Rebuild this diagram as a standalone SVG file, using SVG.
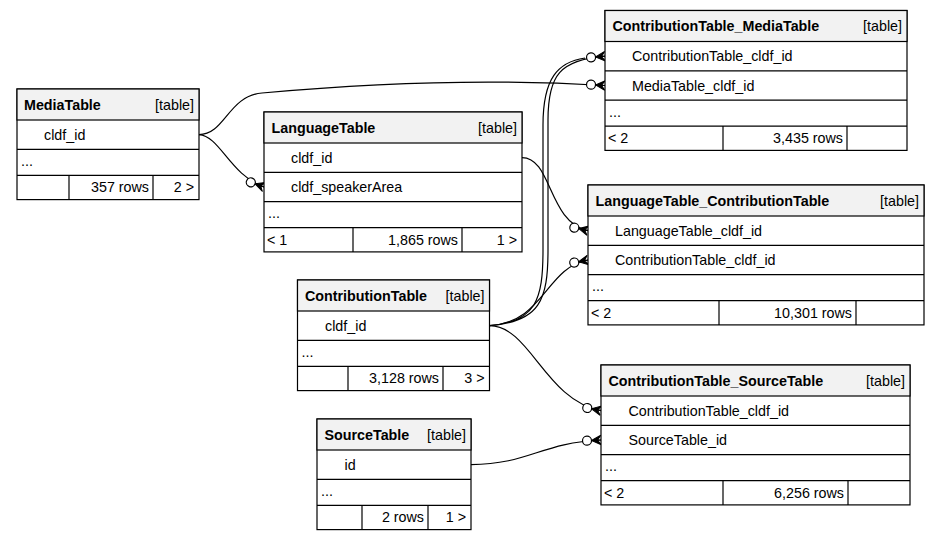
<svg xmlns="http://www.w3.org/2000/svg" width="940" height="542" viewBox="0 0 940 542">
<defs>
<style>
text{font-family:"Liberation Sans",Arial,sans-serif;font-size:14.3px;fill:#000}
.t{font-weight:bold}
.e{text-anchor:end}
.box{fill:#fff;stroke:#000;stroke-width:1.2}
.hd{fill:#f2f2f2;stroke:#000;stroke-width:1.2}
.ln{stroke:#000;stroke-width:1.2}
.edge{fill:none;stroke:#000;stroke-width:1.2;marker-end:url(#cf)}
</style>
<marker id="cf" markerUnits="userSpaceOnUse" orient="auto" refX="0" refY="0" markerWidth="24" markerHeight="12" viewBox="-22 -6 24 12" overflow="visible">
<path d="M-9.5,0 L0,-4.8 L-3.5,0 L0,0 L-3.5,0 L0,4.8 Z" fill="#000" stroke="#000" stroke-width="1"/>
<circle cx="-14" cy="0" r="4.5" fill="#fff" stroke="#000" stroke-width="1.2"/>
</marker>
</defs>
<rect width="940" height="542" fill="#fff"/>

<g id="connectors">
<path class="edge" d="M199,134.6 C225,134.6 228,96 262,93 C360,84 480,78 605,85.5"/>
<path class="edge" d="M199,134.6 C220,136 230,175 264,187"/>
<path class="edge" d="M522,157.6 C552,157.6 548,222 588,230.6"/>
<path class="edge" d="M489.5,325.7 C545,322 545,268 588,260"/>
<path class="edge" d="M489.5,325.7 C536,322 543,300 543,250 L543,125 C543,78 558,62 585,58 M489.5,325.7 C540,322 548,300 548,250 L548,120 C548,75 560,60 605,56.2"/>
<path class="edge" d="M489.5,325.7 C530,325.7 545,400 601,410.6"/>
<path class="edge" d="M471,464.6 C530,464 540,443 601,440"/>
</g>

<g id="MediaTable">
<rect class="box" x="17" y="89" width="182" height="110.6"/>
<rect class="hd" x="17" y="89" width="182" height="31"/>
<line class="ln" x1="17" y1="149.3" x2="199" y2="149.3"/>
<line class="ln" x1="17" y1="175.3" x2="199" y2="175.3"/>
<line class="ln" x1="69" y1="175.3" x2="69" y2="199.6"/>
<line class="ln" x1="153" y1="175.3" x2="153" y2="199.6"/>
<text class="t" x="24" y="109.5">MediaTable</text>
<text class="e" x="194" y="109.5">[table]</text>
<text x="44" y="139.7">cldf_id</text>
<text x="21" y="165.8">...</text>
<text class="e" x="149" y="192.3">357 rows</text>
<text class="e" x="194" y="192.3">2 &gt;</text>
</g>

<g id="LanguageTable">
<rect class="box" x="264" y="112" width="258" height="139.9"/>
<rect class="hd" x="264" y="112" width="258" height="31"/>
<line class="ln" x1="264" y1="172.3" x2="522" y2="172.3"/>
<line class="ln" x1="264" y1="201.6" x2="522" y2="201.6"/>
<line class="ln" x1="264" y1="227.6" x2="522" y2="227.6"/>
<line class="ln" x1="353" y1="227.6" x2="353" y2="251.9"/>
<line class="ln" x1="462" y1="227.6" x2="462" y2="251.9"/>
<text class="t" x="271.5" y="132.5">LanguageTable</text>
<text class="e" x="517" y="132.5">[table]</text>
<text x="291" y="162.7">cldf_id</text>
<text x="291" y="192">cldf_speakerArea</text>
<text x="268" y="218.1">...</text>
<text x="267" y="244.6">&lt; 1</text>
<text class="e" x="458" y="244.6">1,865 rows</text>
<text class="e" x="517" y="244.6">1 &gt;</text>
</g>

<g id="ContributionTable_MediaTable">
<rect class="box" x="605" y="10.5" width="302" height="139.9"/>
<rect class="hd" x="605" y="10.5" width="302" height="31"/>
<line class="ln" x1="605" y1="70.8" x2="907" y2="70.8"/>
<line class="ln" x1="605" y1="100.1" x2="907" y2="100.1"/>
<line class="ln" x1="605" y1="126.1" x2="907" y2="126.1"/>
<line class="ln" x1="723" y1="126.1" x2="723" y2="150.4"/>
<line class="ln" x1="847" y1="126.1" x2="847" y2="150.4"/>
<text class="t" x="612.5" y="31">ContributionTable_MediaTable</text>
<text class="e" x="902" y="31">[table]</text>
<text x="632" y="61.2">ContributionTable_cldf_id</text>
<text x="632" y="90.5">MediaTable_cldf_id</text>
<text x="609" y="116.6">...</text>
<text x="608" y="143.1">&lt; 2</text>
<text class="e" x="843" y="143.1">3,435 rows</text>
</g>

<g id="LanguageTable_ContributionTable">
<rect class="box" x="588" y="185" width="336" height="139.9"/>
<rect class="hd" x="588" y="185" width="336" height="31"/>
<line class="ln" x1="588" y1="245.3" x2="924" y2="245.3"/>
<line class="ln" x1="588" y1="274.6" x2="924" y2="274.6"/>
<line class="ln" x1="588" y1="300.6" x2="924" y2="300.6"/>
<line class="ln" x1="719" y1="300.6" x2="719" y2="324.9"/>
<line class="ln" x1="856" y1="300.6" x2="856" y2="324.9"/>
<text class="t" x="595.5" y="205.5">LanguageTable_ContributionTable</text>
<text class="e" x="919" y="205.5">[table]</text>
<text x="615" y="235.7">LanguageTable_cldf_id</text>
<text x="615" y="265">ContributionTable_cldf_id</text>
<text x="592" y="291.1">...</text>
<text x="591" y="317.6">&lt; 2</text>
<text class="e" x="852" y="317.6">10,301 rows</text>
</g>

<g id="ContributionTable">
<rect class="box" x="297.5" y="280" width="192" height="110.6"/>
<rect class="hd" x="297.5" y="280" width="192" height="31"/>
<line class="ln" x1="297.5" y1="340.3" x2="489.5" y2="340.3"/>
<line class="ln" x1="297.5" y1="366.3" x2="489.5" y2="366.3"/>
<line class="ln" x1="348" y1="366.3" x2="348" y2="390.6"/>
<line class="ln" x1="443" y1="366.3" x2="443" y2="390.6"/>
<text class="t" x="305" y="300.5">ContributionTable</text>
<text class="e" x="484.5" y="300.5">[table]</text>
<text x="325" y="330.7">cldf_id</text>
<text x="301.5" y="356.8">...</text>
<text class="e" x="439" y="383.3">3,128 rows</text>
<text class="e" x="484.5" y="383.3">3 &gt;</text>
</g>

<g id="SourceTable">
<rect class="box" x="317" y="419" width="154" height="110.6"/>
<rect class="hd" x="317" y="419" width="154" height="31"/>
<line class="ln" x1="317" y1="479.3" x2="471" y2="479.3"/>
<line class="ln" x1="317" y1="505.3" x2="471" y2="505.3"/>
<line class="ln" x1="362" y1="505.3" x2="362" y2="529.6"/>
<line class="ln" x1="428" y1="505.3" x2="428" y2="529.6"/>
<text class="t" x="324.5" y="439.5">SourceTable</text>
<text class="e" x="466" y="439.5">[table]</text>
<text x="344.5" y="469.7">id</text>
<text x="321" y="495.8">...</text>
<text class="e" x="424" y="522.3">2 rows</text>
<text class="e" x="466" y="522.3">1 &gt;</text>
</g>

<g id="ContributionTable_SourceTable">
<rect class="box" x="601" y="365" width="309" height="139.9"/>
<rect class="hd" x="601" y="365" width="309" height="31"/>
<line class="ln" x1="601" y1="425.3" x2="910" y2="425.3"/>
<line class="ln" x1="601" y1="454.6" x2="910" y2="454.6"/>
<line class="ln" x1="601" y1="480.6" x2="910" y2="480.6"/>
<line class="ln" x1="723" y1="480.6" x2="723" y2="504.9"/>
<line class="ln" x1="848" y1="480.6" x2="848" y2="504.9"/>
<text class="t" x="608.5" y="385.5">ContributionTable_SourceTable</text>
<text class="e" x="905" y="385.5">[table]</text>
<text x="628.5" y="415.7">ContributionTable_cldf_id</text>
<text x="628.5" y="445">SourceTable_id</text>
<text x="605" y="471.1">...</text>
<text x="604" y="497.6">&lt; 2</text>
<text class="e" x="844" y="497.6">6,256 rows</text>
</g>
</svg>
